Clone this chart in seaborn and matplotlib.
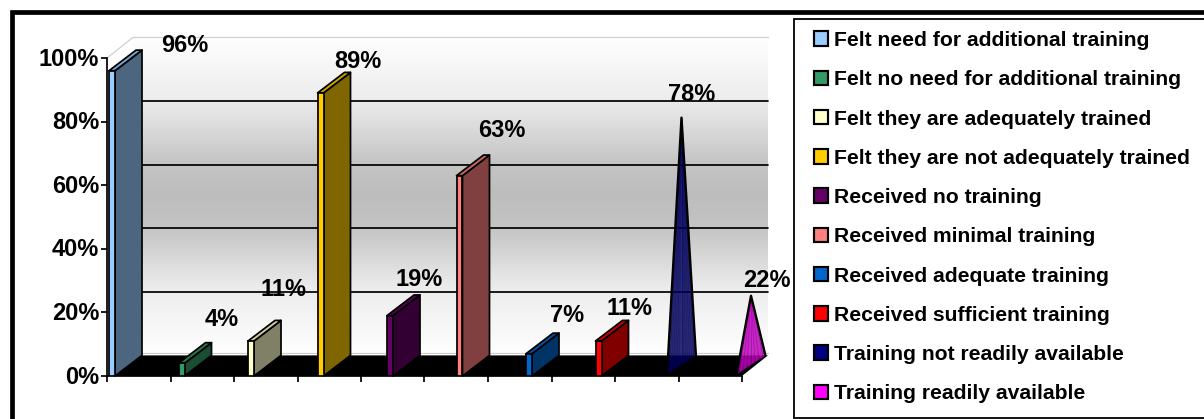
import numpy as np
import pandas as pd
import matplotlib
matplotlib.use("Agg")
import matplotlib.pyplot as plt
from matplotlib.colors import LinearSegmentedColormap, to_rgb
from matplotlib.patches import Patch, Rectangle
from matplotlib.transforms import ScaledTranslation
import seaborn as sns

# Survey results on staff training
categories = [
    "Felt need for additional training",
    "Felt no need for additional training",
    "Felt they are adequately trained",
    "Felt they are not adequately trained",
    "Received no training",
    "Received minimal training",
    "Received adequate training",
    "Received sufficient training",
    "Training not readily available",
    "Training readily available",
]
percentages = [96, 4, 11, 89, 19, 63, 7, 11, 78, 22]
series_colors = [
    "#99ccff", "#339966", "#ffffcc", "#ffcc00", "#660066",
    "#ff8080", "#0066cc", "#ff0000", "#000080", "#ff00ff",
]
y_ticks = [0, 20, 40, 60, 80, 100]

# Label offsets from each column's top, in pixels
label_offsets = [
    (72.5, 25.5), (40.5, 44), (32, 52), (37.5, 31.5), (29, 36),
    (42.5, 45), (38, 38.5), (31.5, 33), (24, 33), (29.5, 26),
]
column_count_as_bars = 8  # the last two series are drawn as cones

W, H = 1204, 419
PX_PER_CAT = 69.5
PX_PER_PCT = 3.18
X0_PX = 112
AX_LEFT, AX_RIGHT, AX_TOP, AX_BOTTOM = 107, 742, 58, 376


def x_from_px(p):
    return (p - X0_PX) / PX_PER_CAT


BAR_W = 6 / PX_PER_CAT
DEPTH_X = 27 / PX_PER_CAT
WALL_DX = 26 / PX_PER_CAT
DEPTH_Y = 20.6 / PX_PER_PCT
EDGE = 1.25


def shade(color, factor):
    return tuple(c * factor for c in to_rgb(color))


sns.set_theme(style="white")
plt.rcParams["font.family"] = ["Liberation Sans", "DejaVu Sans"]
plt.rcParams["font.weight"] = "bold"

fig = plt.figure(figsize=(W / 100, H / 100), dpi=100, facecolor="white")
ax = fig.add_axes([
    AX_LEFT / W, (H - AX_BOTTOM) / H,
    (AX_RIGHT - AX_LEFT) / W, (AX_BOTTOM - AX_TOP) / H,
])
ax.set_facecolor("none")

df = pd.DataFrame({"category": categories, "value": percentages})

# Front faces of the eight rectangular columns
palette = dict(zip(categories, series_colors))
sns.barplot(
    data=df.iloc[:column_count_as_bars], x="category", y="value", hue="category",
    order=categories, hue_order=categories, palette=palette, legend=False,
    width=BAR_W, edgecolor="black", linewidth=EDGE, saturation=1, ax=ax,
)
for patch in ax.patches:
    patch.set_zorder(6)

# Back wall with its vertical gradient
wall_left = x_from_px(AX_LEFT) + WALL_DX
wall_right = x_from_px(AX_RIGHT) + WALL_DX
gradient = LinearSegmentedColormap.from_list(
    "wall",
    [(0.0, "#ffffff"), (0.2, "#ececec"), (0.40, "#c4c4c4"), (0.5, "#bdbdbd"),
     (0.6, "#c4c4c4"), (0.79, "#ececec"), (1.0, "#ffffff")],
)
ax.imshow(
    np.linspace(0, 1, 256).reshape(-1, 1), cmap=gradient, aspect="auto",
    extent=(wall_left, wall_right, DEPTH_Y, 100 + DEPTH_Y), zorder=0,
    clip_on=False,
)

# Wall gridlines and the pale outline of the chart box
for tick in y_ticks[1:-1]:
    ax.plot([wall_left, wall_right], [tick + DEPTH_Y] * 2, color="black",
            lw=EDGE, zorder=1, clip_on=False)
for xs, ys in [
    ([x_from_px(AX_LEFT), wall_left], [100, 100 + DEPTH_Y]),
    ([wall_left, wall_right], [100 + DEPTH_Y] * 2),
    ([wall_left, wall_right], [DEPTH_Y + 0.6] * 2),
]:
    ax.plot(xs, ys, color="#d0d0d0", lw=0.9, zorder=1, clip_on=False)

# Black floor
ax.fill(
    [x_from_px(AX_LEFT), x_from_px(AX_RIGHT), wall_right, wall_left],
    [0, 0, DEPTH_Y, DEPTH_Y], color="black", lw=0, zorder=2, clip_on=False,
)

# Side and top faces give the rectangular columns their depth
for i, (value, color) in enumerate(
    zip(percentages[:column_count_as_bars], series_colors[:column_count_as_bars])
):
    left, right = i - BAR_W / 2, i + BAR_W / 2
    ax.fill(
        [right, right + DEPTH_X, right + DEPTH_X, right],
        [0, DEPTH_Y, value + DEPTH_Y, value],
        facecolor=shade(color, 0.5), edgecolor="black", lw=EDGE,
        zorder=4, clip_on=False, joinstyle="round",
    )
    ax.fill(
        [left, right, right + DEPTH_X, left + DEPTH_X],
        [value, value, value + DEPTH_Y, value + DEPTH_Y],
        facecolor=shade(color, 0.8), edgecolor="black", lw=EDGE,
        zorder=4, clip_on=False, joinstyle="round",
    )

# Cones: the last two series, with a fan of streaks down to the base
for i in range(column_count_as_bars, len(percentages)):
    value, color = percentages[i], series_colors[i]
    base_x = np.array([i - BAR_W / 2 + 0.03, i + BAR_W / 2 + DEPTH_X - 0.03])
    base_y = np.array([0.6, DEPTH_Y])
    apex_x = i + DEPTH_X / 2
    apex_y = value + DEPTH_Y / 2
    ax.fill(
        [apex_x, base_x[0], base_x[1]], [apex_y, base_y[0], base_y[1]],
        facecolor=shade(color, 0.7), alpha=0.82, lw=0, zorder=4, clip_on=False,
    )
    for t, light in zip(np.linspace(0.08, 0.92, 13), [0, 1] * 7):
        streak = shade(color, 1.0) if light else shade(color, 0.4)
        ax.plot(
            [apex_x, base_x[0] + t * (base_x[1] - base_x[0])],
            [apex_y, base_y[0] + t * (base_y[1] - base_y[0])],
            color=streak, lw=0.7, alpha=0.35, zorder=4.5, clip_on=False,
        )
    ax.plot(
        [base_x[0], apex_x, base_x[1]], [base_y[0], apex_y, base_y[1]],
        color="black", lw=1.7, zorder=5, clip_on=False,
        solid_joinstyle="round",
    )

# Value labels
for i, (value, offset) in enumerate(zip(percentages, label_offsets)):
    ax.annotate(
        f"{value}%", xy=(i, value), xytext=offset, textcoords="offset pixels",
        ha="center", va="center", fontsize=17, fontweight="bold",
        color="black", zorder=8, annotation_clip=False,
    )

# Axes, ticks and scale
tick_px = np.linspace(AX_LEFT, AX_RIGHT, 11)
ax.set_xticks([x_from_px(p) for p in tick_px])
ax.set_xticklabels([])
ax.set_yticks(y_ticks)
ax.set_yticklabels([f"{t}%" for t in y_ticks], fontsize=17, fontweight="bold",
                   color="black")
ax.set_xlim(x_from_px(AX_LEFT), x_from_px(AX_RIGHT))
ax.set_ylim(0, 100)
ax.set_xlabel("")
ax.set_ylabel("")
ax.tick_params(axis="both", which="major", direction="out", length=4.5,
               width=EDGE, color="black", bottom=True, left=True, pad=1)
lift = ScaledTranslation(0, 1.5 / 100, fig.dpi_scale_trans)
for label in ax.get_yticklabels():
    label.set_transform(label.get_transform() + lift)
sns.despine(ax=ax)
for name in ("left", "bottom"):
    ax.spines[name].set_color("black")
    ax.spines[name].set_linewidth(EDGE)

# Outer frame and legend box both run off the right and lower edges
fig.add_artist(Rectangle(
    (11.5 / W, -20 / H), (W + 40) / W, (H + 20 - 12) / H,
    transform=fig.transFigure, fill=False, edgecolor="black", lw=3.4,
))
fig.add_artist(Rectangle(
    (793.5 / W, 1.2 / H), (W + 40) / W, (H - 18.7 - 1.2) / H,
    transform=fig.transFigure, facecolor="white", edgecolor="black", lw=1.3,
))

handles = [
    Patch(facecolor=c, edgecolor="black", linewidth=EDGE + 0.3, label=name)
    for name, c in zip(categories, series_colors)
]
legend = fig.legend(
    handles=handles, loc="upper left",
    bbox_to_anchor=(814 / W, (H - 31) / H), bbox_transform=fig.transFigure,
    frameon=False, fontsize=15.2, labelspacing=0.96, borderpad=0,
    borderaxespad=0, handlelength=0.68, handleheight=0.68, handletextpad=0.26,
)
legend.set_zorder(10)
for text in legend.get_texts():
    text.set_color("black")
    text.set_fontweight("bold")

fig.savefig("out.png", dpi=100)
